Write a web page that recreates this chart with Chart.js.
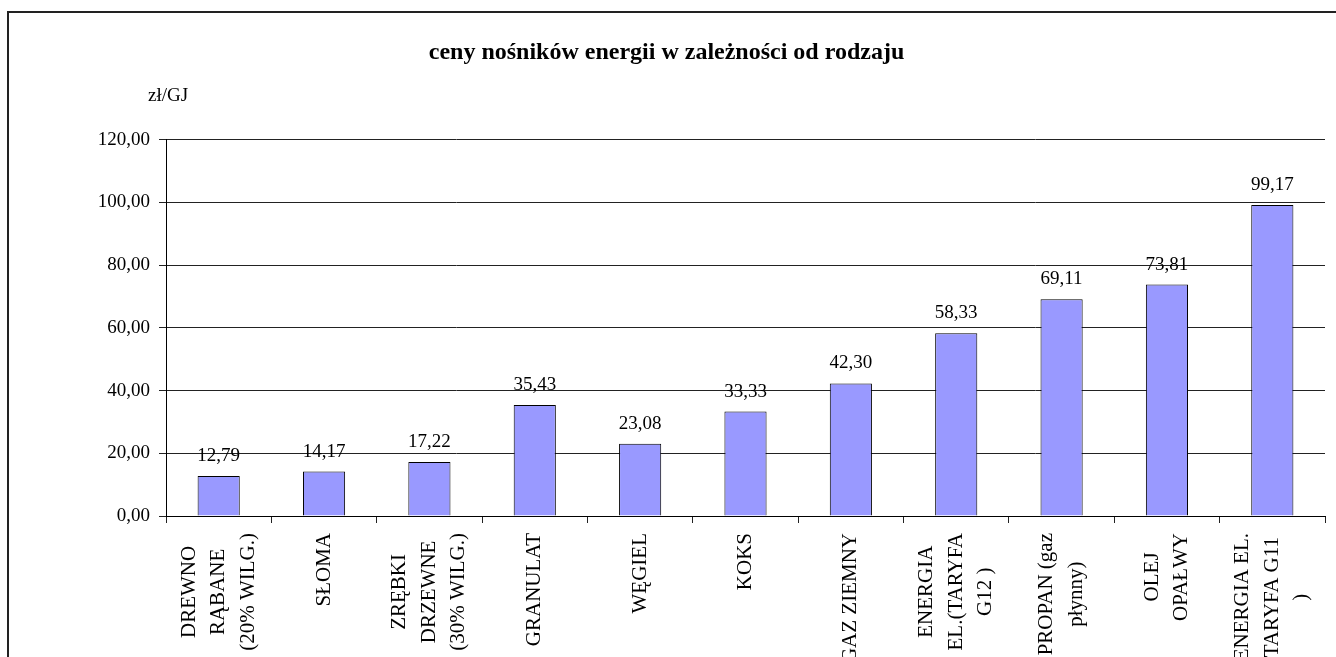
<!DOCTYPE html>
<html>
<head>
<meta charset="utf-8">
<script src="https://cdn.jsdelivr.net/npm/chart.js@4.4.1/dist/chart.umd.min.js"></script>
<style>
    html, body { margin: 0; padding: 0; background: #fff; overflow: hidden; }
    #wrap { position: relative; width: 1336px; height: 657px; }
    #frame {
        position: absolute; left: 7px; top: 11px; width: 1400px; height: 700px;
        border-left: 2px solid #222; border-top: 2px solid #222;
    }
    #price-chart { position: absolute; left: 0; top: 0; }
</style>
</head>
<body>
<div id="wrap">
    <div id="frame"></div>
    <canvas id="price-chart" width="1336" height="657"></canvas>
</div>
<script>
var chartTitle = 'ceny nośników energii w zależności od rodzaju';
var unitLabel = 'zł/GJ';

// each category is a list of lines, the way they are wrapped under the axis
var categories = [
    ['DREWNO', 'RĄBANE', '(20% WILG.)'],
    ['SŁOMA'],
    ['ZRĘBKI', 'DRZEWNE', '(30% WILG.)'],
    ['GRANULAT'],
    ['WĘGIEL'],
    ['KOKS'],
    ['GAZ ZIEMNY'],
    ['ENERGIA', 'EL.(TARYFA', 'G12 )'],
    ['PROPAN (gaz', 'płynny)'],
    ['OLEJ', 'OPAŁWY'],
    ['ENERGIA EL.', 'TARYFA G11', ')']
];
var prices = [12.79, 14.17, 17.22, 35.43, 23.08, 33.33, 42.30, 58.33, 69.11, 73.81, 99.17];
var yTicks = [0, 20, 40, 60, 80, 100, 120];

var serif = "'Liberation Serif', 'Times New Roman', serif";

function plNumber(v) {
    return v.toFixed(2).replace('.', ',');
}

// values above the bars + unit text over the axis
var valueLabels = {
    id: 'valueLabels',
    afterDatasetsDraw: function (chart) {
        var ctx = chart.ctx;
        var meta = chart.getDatasetMeta(0);
        ctx.save();
        ctx.font = '19px ' + serif;
        ctx.fillStyle = '#000';
        ctx.textAlign = 'center';
        ctx.textBaseline = 'alphabetic';
        meta.data.forEach(function (bar, i) {
            ctx.fillText(plNumber(prices[i]), bar.x, bar.y - 15);
        });
        ctx.textAlign = 'left';
        ctx.fillText(unitLabel, 148, 101);
        ctx.restore();
    }
};

// rotated category names, lines centred on each other
var categoryLabels = {
    id: 'categoryLabels',
    afterDraw: function (chart) {
        var ctx = chart.ctx;
        var xScale = chart.scales.x;
        var lineH = 29.5;
        ctx.save();
        ctx.font = '21px ' + serif;
        ctx.fillStyle = '#000';
        ctx.textAlign = 'center';
        ctx.textBaseline = 'middle';
        categories.forEach(function (lines, i) {
            var x = xScale.getPixelForValue(i);
            var maxW = 0;
            lines.forEach(function (l) { maxW = Math.max(maxW, ctx.measureText(l).width); });
            var cy = xScale.top + 17 + maxW / 2;
            ctx.save();
            ctx.translate(x, cy);
            ctx.rotate(-Math.PI / 2);
            lines.forEach(function (l, j) {
                ctx.fillText(l, 0, (j - (lines.length - 1) / 2) * lineH);
            });
            ctx.restore();
        });
        ctx.restore();
    }
};

var ctx = document.getElementById('price-chart').getContext('2d');
window.priceChart = new Chart(ctx, {
    type: 'bar',
    data: {
        labels: categories.map(function (c) { return c.join(' '); }),
        datasets: [{
            data: prices,
            backgroundColor: '#9999FF',
            borderColor: '#000',
            borderWidth: 1,
            categoryPercentage: 1.0,
            barPercentage: 0.4
        }]
    },
    options: {
        responsive: false,
        animation: false,
        layout: { padding: { top: 12, left: 8, right: 11, bottom: 0 } },
        plugins: {
            legend: { display: false },
            tooltip: { enabled: false },
            title: {
                display: true,
                text: chartTitle,
                color: '#000',
                font: { family: serif, size: 24, weight: 'bold' },
                padding: { top: 26, bottom: 73 }
            }
        },
        scales: {
            x: {
                grid: {
                    display: true,
                    offset: true,
                    drawOnChartArea: false,
                    color: '#222',
                    tickLength: 7
                },
                border: { color: '#000' },
                ticks: { display: false },
                afterFit: function (scale) { scale.height = 141; }
            },
            y: {
                min: yTicks[0],
                max: yTicks[yTicks.length - 1],
                afterBuildTicks: function (scale) {
                    scale.ticks = yTicks.map(function (v) { return { value: v }; });
                },
                ticks: {
                    color: '#000',
                    font: { family: serif, size: 19 },
                    padding: 9,
                    callback: function (v) { return plNumber(v); }
                },
                grid: { color: '#222', tickLength: 7 },
                border: { color: '#000' },
                afterFit: function (scale) { scale.width = 158; }
            }
        }
    },
    plugins: [valueLabels, categoryLabels]
});
</script>
</body>
</html>
